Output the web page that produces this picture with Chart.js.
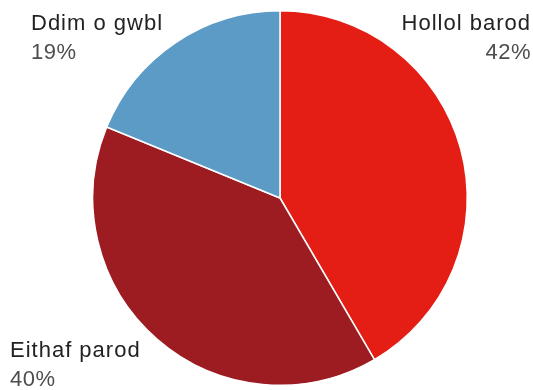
<!DOCTYPE html>
<html>
<head>
<meta charset="utf-8">
<script src="https://cdn.jsdelivr.net/npm/chart.js@4/dist/chart.umd.min.js"></script>
<style>
    html, body { margin: 0; padding: 0; background: #fff; }
    #wrap { width: 533px; height: 390px; position: relative; }
</style>
</head>
<body>
<div id="wrap"><canvas id="pieCanvas"></canvas></div>
<script>
const categories = ["Hollol barod", "Eithaf parod", "Ddim o gwbl"];
const shares = [42, 40, 19];
const shareLabels = ["42%", "40%", "19%"];
const sliceColors = ["#e41e14", "#9d1c22", "#5b9bc6"];

// where each label sits: corner of the canvas + alignment
const labelSpots = [
    { corner: "top-right", align: "right", dx: -2, dy: 30 },
    { corner: "bottom-left", align: "left", dx: 10, dy: -33 },
    { corner: "top-left", align: "left", dx: 31, dy: 30 }
];

const cornerLabels = {
    id: "cornerLabels",
    afterDraw(chart){
        const ctx = chart.ctx;
        const w = chart.width, h = chart.height;
        ctx.save();
        ctx.textBaseline = "alphabetic";
        ctx.font = "22px 'Liberation Sans', Arial, sans-serif";
        for(let i = 0; i < categories.length; i++){
            let spot = labelSpots[i];
            let x = spot.corner.indexOf("right") >= 0 ? w + spot.dx : spot.dx;
            let y = spot.corner.indexOf("bottom") >= 0 ? h + spot.dy : spot.dy;
            ctx.textAlign = spot.align;
            ctx.letterSpacing = "1px";
            ctx.fillStyle = "#222";
            ctx.fillText(categories[i], x, y);
            ctx.letterSpacing = "0.5px";
            ctx.fillStyle = "#4d4d4d";
            ctx.fillText(shareLabels[i], x, y + 29);
        }
        ctx.restore();
    }
};

new Chart(document.getElementById("pieCanvas"), {
    type: "pie",
    data: {
        labels: categories,
        datasets: [{
            data: shares,
            backgroundColor: sliceColors,
            borderColor: "#fff",
            borderWidth: 1.5
        }]
    },
    options: {
        responsive: true,
        maintainAspectRatio: false,
        animation: false,
        layout: { padding: { top: 10, bottom: 4, left: 27, right: 0 } },
        plugins: {
            legend: { display: false },
            tooltip: { enabled: false }
        }
    },
    plugins: [cornerLabels]
});
</script>
</body>
</html>
